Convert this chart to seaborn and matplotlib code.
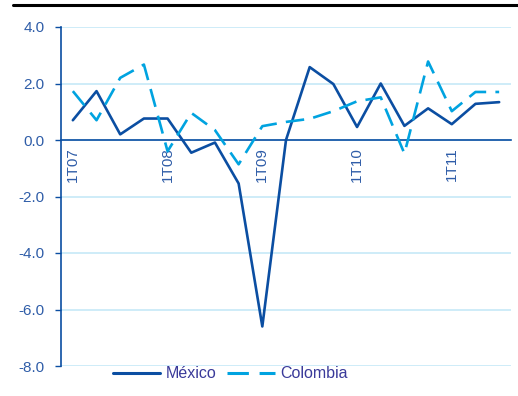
import numpy as np
import pandas as pd
import matplotlib
matplotlib.use('Agg')
import matplotlib.pyplot as plt
from matplotlib.lines import Line2D
import seaborn as sns

# THE DATA
quarters = ['1T07', '2T07', '3T07', '4T07', '1T08', '2T08', '3T08', '4T08',
            '1T09', '2T09', '3T09', '4T09', '1T10', '2T10', '3T10', '4T10',
            '1T11', '2T11', '3T11']
mexico = [0.70, 1.73, 0.20, 0.76, 0.76, -0.45, -0.09, -1.54, -6.6, 0.0,
          2.58, 1.98, 0.46, 2.0, 0.5, 1.12, 0.56, 1.28, 1.34]
colombia = [1.73, 0.70, 2.2, 2.67, -0.4, 0.96, 0.35, -0.86, 0.49, 0.64,
            0.75, 1.02, 1.37, 1.51, -0.48, 2.78, 1.02, 1.70, 1.70]
y_ticks = [4.0, 2.0, 0.0, -2.0, -4.0, -6.0, -8.0]

df = pd.DataFrame({
    'q': list(range(len(quarters))) * 2,
    'value': mexico + colombia,
    'country': ['México'] * len(quarters) + ['Colombia'] * len(quarters),
})

# THE CHART
sns.set_style('white')
plt.rcParams['font.family'] = ['Liberation Sans', 'DejaVu Sans']

dark = '#0B4EA2'
light = '#00A3E0'
grid_c = '#C6E9F7'
txt = '#2F5DA8'

fig = plt.figure(figsize=(5.18, 3.96), dpi=100)
ax = fig.add_axes([61 / 518, 1 - 366 / 396, 450 / 518, 339 / 396])

sns.lineplot(data=df, x='q', y='value', hue='country', style='country',
             palette={'México': dark, 'Colombia': light},
             dashes={'México': '', 'Colombia': (7, 3.5)},
             linewidth=1.9, ax=ax, legend=False)

ax.set_xlim(-0.5, len(quarters) - 0.5)
ax.set_ylim(-8, 4)
ax.set_yticks(y_ticks)
ax.set_yticklabels([f'{v:.1f}' for v in y_ticks], color=txt, fontsize=11)
ax.grid(axis='y', color=grid_c, linewidth=1.2)
ax.set_axisbelow(True)

for s in ['top', 'right']:
    ax.spines[s].set_visible(False)
ax.spines['left'].set_color(dark)
ax.spines['left'].set_linewidth(1.2)
ax.spines['bottom'].set_position(('data', 0))
ax.spines['bottom'].set_color(dark)
ax.spines['bottom'].set_linewidth(1.2)
ax.spines['bottom'].set_zorder(1)

# tick marks between categories, labels at the first quarter of each year
ax.set_xticks(np.arange(-0.5, len(quarters), 1.0))
ax.set_xticklabels([])
ax.tick_params(axis='x', which='major', direction='out', length=4, color=dark, width=1)
ax.tick_params(axis='y', direction='out', length=4, color=dark, width=1, pad=8, left=True)
lab_idx = [i for i, q in enumerate(quarters) if q.startswith('1T')]
ax.set_xticks(lab_idx, minor=True)
ax.set_xticklabels([quarters[i] for i in lab_idx], minor=True, rotation=90,
                   color=txt, fontsize=11, va='top', ha='center')
ax.tick_params(axis='x', which='minor', length=0, pad=5)
ax.set_xlabel('')
ax.set_ylabel('')

# legend
handles = [Line2D([], [], color=dark, lw=2.2),
           Line2D([], [], color=light, lw=2.2, dashes=(7, 3.5))]
fig.legend(handles, ['México', 'Colombia'], loc='center', ncol=2,
           bbox_to_anchor=(230 / 518, 1 - 374 / 396), frameon=False,
           handlelength=3.0, handletextpad=0.3, columnspacing=0.7,
           prop={'size': 11.5}, labelcolor='#3A3A9A')

# black rule at the top
fig.add_artist(Line2D([13 / 518, 1.0], [1 - 5 / 396, 1 - 5 / 396],
                      color='black', lw=2.2, transform=fig.transFigure))

fig.savefig('out.png', dpi=100)
